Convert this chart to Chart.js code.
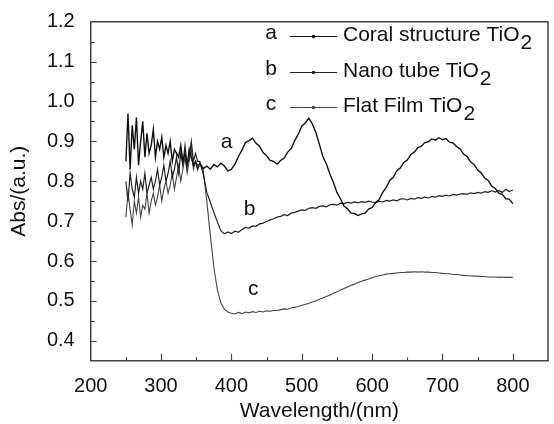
<!DOCTYPE html>
<html>
<head>
<meta charset="utf-8">
<script src="https://cdn.jsdelivr.net/npm/chart.js@4/dist/chart.umd.min.js"></script>
<style>
  html, body { margin: 0; padding: 0; background: #fff; }
  canvas { display: block; }
</style>
</head>
<body>
<canvas id="chart" width="554" height="424" style="width:554px;height:424px"></canvas>
<script>
// wavelength grid (nm): dense through the noisy UV part, 5 nm steps after
const wavelengths = [
  250, 253, 256, 259, 262, 265, 268, 271, 274, 277, 280, 283, 286, 289, 292, 295, 298,
  301, 304, 307, 310, 313, 316, 319, 322, 325, 328, 331, 334, 337, 340, 343, 346, 349, 352,
  355, 360, 365, 370, 375, 380, 385, 390, 395, 400, 405, 410, 415, 420, 425, 430, 435, 440,
  445, 450, 455, 460, 465, 470, 475, 480, 485, 490, 495, 500, 505, 510, 515, 520, 525, 530,
  535, 540, 545, 550, 555, 560, 565, 570, 575, 580, 585, 590, 595, 600, 605, 610, 615, 620,
  625, 630, 635, 640, 645, 650, 655, 660, 665, 670, 675, 680, 685, 690, 695, 700, 705, 710,
  715, 720, 725, 730, 735, 740, 745, 750, 755, 760, 765, 770, 775, 780, 785, 790, 795, 800
];

const seriesNames = ['Coral structure TiO', 'Nano tube TiO', 'Flat Film TiO'];
const seriesTags = ['a', 'b', 'c'];

const coralAbs = [
  0.85, 0.97, 0.83, 0.94, 0.88, 0.96, 0.84, 0.90, 0.95, 0.86, 0.92, 0.87, 0.89, 0.93, 0.86, 0.90, 0.88,
  0.91, 0.86, 0.89, 0.87, 0.90, 0.85, 0.88, 0.87, 0.86, 0.89, 0.85, 0.87, 0.84, 0.88, 0.86, 0.84, 0.85, 0.83,
  0.845, 0.832, 0.838, 0.830, 0.842, 0.836, 0.845, 0.838, 0.826, 0.830, 0.843, 0.862, 0.878, 0.897, 0.902, 0.908, 0.895, 0.888,
  0.872, 0.864, 0.852, 0.850, 0.843, 0.852, 0.858, 0.873, 0.882, 0.902, 0.918, 0.938, 0.946, 0.958, 0.944, 0.922, 0.893, 0.862,
  0.843, 0.818, 0.797, 0.772, 0.756, 0.738, 0.731, 0.720, 0.719, 0.714, 0.718, 0.720, 0.730, 0.734, 0.747, 0.754, 0.772, 0.784,
  0.802, 0.810, 0.826, 0.833, 0.847, 0.853, 0.867, 0.873, 0.884, 0.888, 0.897, 0.899, 0.906, 0.903, 0.909, 0.904, 0.907, 0.898,
  0.896, 0.887, 0.881, 0.868, 0.862, 0.848, 0.842, 0.828, 0.821, 0.808, 0.802, 0.788, 0.782, 0.770, 0.767, 0.756, 0.755, 0.744
];

const nanotubeAbs = [
  0.80, 0.75, 0.82, 0.78, 0.76, 0.81, 0.77, 0.80, 0.78, 0.82, 0.77, 0.79, 0.81, 0.78, 0.80, 0.83, 0.79,
  0.81, 0.84, 0.80, 0.82, 0.85, 0.81, 0.83, 0.86, 0.82, 0.87, 0.84, 0.89, 0.84, 0.86, 0.90, 0.85, 0.87, 0.85,
  0.850, 0.818, 0.772, 0.748, 0.722, 0.698, 0.676, 0.668, 0.673, 0.669, 0.675, 0.672, 0.679, 0.684, 0.682, 0.688, 0.687, 0.693,
  0.695, 0.699, 0.703, 0.706, 0.710, 0.712, 0.716, 0.714, 0.720, 0.722, 0.725, 0.728, 0.727, 0.732, 0.734, 0.732, 0.737, 0.738,
  0.736, 0.741, 0.742, 0.740, 0.745, 0.744, 0.747, 0.745, 0.748, 0.746, 0.749, 0.747, 0.750, 0.748, 0.746, 0.750, 0.748, 0.752,
  0.750, 0.753, 0.751, 0.755, 0.756, 0.753, 0.757, 0.755, 0.759, 0.757, 0.760, 0.758, 0.762, 0.760, 0.764, 0.762, 0.765, 0.763,
  0.767, 0.765, 0.768, 0.769, 0.767, 0.771, 0.769, 0.772, 0.770, 0.774, 0.772, 0.776, 0.773, 0.777, 0.772, 0.780, 0.774, 0.778
];

const flatFilmAbs = [
  0.71, 0.77, 0.73, 0.69, 0.75, 0.72, 0.76, 0.71, 0.74, 0.73, 0.77, 0.72, 0.75, 0.77, 0.74, 0.76, 0.79,
  0.75, 0.78, 0.80, 0.77, 0.79, 0.82, 0.78, 0.81, 0.84, 0.80, 0.83, 0.86, 0.82, 0.85, 0.88, 0.83, 0.85, 0.84,
  0.842, 0.828, 0.750, 0.665, 0.585, 0.528, 0.495, 0.479, 0.472, 0.469, 0.467, 0.471, 0.468, 0.472, 0.470, 0.473, 0.471, 0.474,
  0.472, 0.475, 0.474, 0.476, 0.476, 0.478, 0.480, 0.479, 0.482, 0.484, 0.486, 0.489, 0.491, 0.494, 0.497, 0.500, 0.504, 0.507,
  0.511, 0.515, 0.519, 0.523, 0.527, 0.531, 0.535, 0.539, 0.542, 0.546, 0.549, 0.552, 0.555, 0.558, 0.561, 0.563, 0.565, 0.567,
  0.568, 0.569, 0.570, 0.571, 0.571, 0.572, 0.572, 0.573, 0.572, 0.573, 0.572, 0.572, 0.571, 0.571, 0.570, 0.569, 0.568, 0.568,
  0.566, 0.566, 0.565, 0.564, 0.563, 0.563, 0.562, 0.562, 0.561, 0.561, 0.560, 0.560, 0.560, 0.559, 0.560, 0.559, 0.559, 0.559
];

const xTickLabels = [200, 300, 400, 500, 600, 700, 800];
const yTickLabels = [0.4, 0.5, 0.6, 0.7, 0.8, 0.9, 1.0, 1.1, 1.2];

const FONT = '"Liberation Sans", Arial, sans-serif';
const INK = '#111';
const AXIS = '#444';

const toPoints = (vals) => vals.map((v, i) => ({ x: wavelengths[i], y: v }));

// inward ticks, closing box, legend and a/b/c curve tags
const decorations = {
  id: 'decorations',
  afterDraw(chart) {
    const { ctx, chartArea: area, scales: { x, y } } = chart;
    ctx.save();
    ctx.strokeStyle = AXIS;
    ctx.lineWidth = 1.5;
    ctx.beginPath();
    ctx.moveTo(area.left, area.top);
    ctx.lineTo(area.right, area.top);
    ctx.lineTo(area.right, area.bottom);
    ctx.stroke();

    ctx.lineWidth = 1.2;
    ctx.beginPath();
    x.ticks.forEach(t => {
      if (t.value <= x.min || t.value >= x.max) return;
      const px = Math.round(x.getPixelForValue(t.value)) + 0.5;
      const len = xTickLabels.includes(t.value) ? 7 : 3.5;
      ctx.moveTo(px, area.bottom);
      ctx.lineTo(px, area.bottom - len);
    });
    y.ticks.forEach(t => {
      if (t.value <= y.min || t.value >= y.max) return;
      const py = Math.round(y.getPixelForValue(t.value)) + 0.5;
      const major = yTickLabels.some(l => Math.abs(l - t.value) < 1e-6);
      ctx.moveTo(area.left, py);
      ctx.lineTo(area.left + (major ? 6 : 4), py);
    });
    ctx.stroke();

    // legend
    const rows = [35, 71, 106];
    ctx.font = `21px ${FONT}`;
    ctx.textBaseline = 'middle';
    chart.data.datasets.forEach((ds, i) => {
      const ry = rows[i];
      ctx.fillStyle = INK;
      ctx.textAlign = 'center';
      ctx.fillText(seriesTags[i], 271, ry - 2);
      ctx.strokeStyle = ds.borderColor;
      ctx.lineWidth = 1.2;
      ctx.beginPath();
      ctx.moveTo(290, ry + 1.5);
      ctx.lineTo(337, ry + 1.5);
      ctx.stroke();
      ctx.fillStyle = ds.borderColor;
      ctx.beginPath();
      ctx.arc(313.5, ry + 1.5, 1.8, 0, Math.PI * 2);
      ctx.fill();
      ctx.fillStyle = INK;
      ctx.textAlign = 'left';
      ctx.fillText(ds.label, 343, ry);
      const w = ctx.measureText(ds.label).width;
      ctx.fillText('2', 343 + w + 1, ry + 8);
    });

    // tags next to the curves
    const tagSpots = [[393, 0.899], [426, 0.729], [431, 0.529]];
    ctx.textAlign = 'center';
    ctx.fillStyle = INK;
    tagSpots.forEach(([wl, ab], i) => {
      ctx.fillText(seriesTags[i], x.getPixelForValue(wl), y.getPixelForValue(ab));
    });
    ctx.restore();
  }
};

new Chart(document.getElementById('chart'), {
  type: 'line',
  data: {
    datasets: [
      { label: seriesNames[0], data: toPoints(coralAbs), borderColor: '#111', borderWidth: 1.4 },
      { label: seriesNames[1], data: toPoints(nanotubeAbs), borderColor: '#222', borderWidth: 1.2 },
      { label: seriesNames[2], data: toPoints(flatFilmAbs), borderColor: '#444', borderWidth: 1.1 }
    ]
  },
  options: {
    responsive: false,
    animation: false,
    layout: { padding: { top: 21.7, right: 1, bottom: 0, left: 0 } },
    elements: { point: { radius: 0 }, line: { tension: 0 } },
    plugins: { legend: { display: false }, tooltip: { enabled: false } },
    scales: {
      x: {
        type: 'linear',
        min: 200,
        max: 850,
        afterFit: s => { s.height = 63.3; },
        grid: { display: false },
        border: { color: AXIS, width: 1.5 },
        ticks: {
          stepSize: 50,
          autoSkip: false,
          maxRotation: 0,
          includeBounds: false,
          padding: 6,
          color: INK,
          font: { size: 20, family: FONT },
          callback: v => xTickLabels.includes(v) ? String(v) : ''
        },
        title: {
          display: true,
          text: 'Wavelength/(nm)',
          color: INK,
          font: { size: 21, family: FONT },
          padding: { top: 0, bottom: 0 }
        }
      },
      y: {
        min: 0.35,
        max: 1.2,
        afterFit: s => { s.width = 90.7; },
        grid: { display: false },
        border: { color: AXIS, width: 1.5 },
        ticks: {
          stepSize: 0.05,
          autoSkip: false,
          includeBounds: false,
          padding: 8,
          color: INK,
          font: { size: 20, family: FONT },
          callback: v => {
            const hit = yTickLabels.find(l => Math.abs(l - v) < 1e-6);
            return hit === undefined ? '' : hit.toFixed(1);
          }
        },
        title: {
          display: true,
          text: 'Abs/(a.u.)',
          color: INK,
          font: { size: 21, family: FONT },
          padding: { top: 7, bottom: 0 }
        }
      }
    }
  },
  plugins: [decorations]
});
</script>
</body>
</html>
